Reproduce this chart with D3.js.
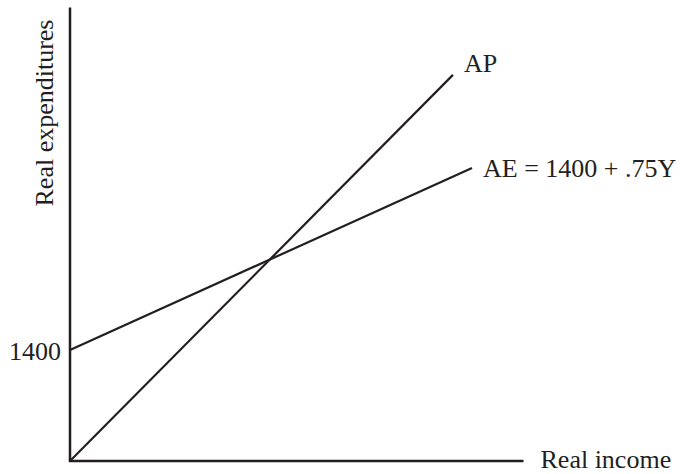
<!DOCTYPE html>
<html>
<head>
<meta charset="utf-8">
<script src="https://cdn.jsdelivr.net/npm/d3@7"></script>
<style>
  body { margin: 0; background: #fff; }
  svg text { font-family: "Liberation Serif", "Times New Roman", serif; font-size: 26px; fill: #231f20; }
</style>
</head>
<body>
<svg id="chart" width="680" height="474"></svg>
<script>
// values (not drawn to scale in the original)
var axisMax = 5720;
var yTicks = [1400];
var apLine = [[0, 0], [4830, 4870]];
var aeLine = [[0, 1400], [5070, 3695]];
var lineLabels = ["AP", "AE = 1400 + .75Y"];
var xTitle = "Real income";
var yTitle = "Real expenditures";

var svg = d3.select("#chart");
var ink = "#231f20";

// origin at (70,461), 1400 units = 111px on both axes
var xScale = d3.scaleLinear().domain([0, 1400]).range([70, 181]);
var yScale = d3.scaleLinear().domain([0, 1400]).range([461, 350]);

// axes as plain lines
svg.append("line")
  .attr("x1", xScale(0)).attr("y1", yScale(0))
  .attr("x2", xScale(0)).attr("y2", yScale(axisMax))
  .attr("stroke", ink).attr("stroke-width", 2.5);

svg.append("line")
  .attr("x1", xScale(0) - 1.2).attr("y1", yScale(0))
  .attr("x2", xScale(axisMax)).attr("y2", yScale(0))
  .attr("stroke", ink).attr("stroke-width", 2.5);

// tick label only, no tick mark
svg.selectAll(".ytick")
  .data(yTicks)
  .enter().append("text")
  .attr("class", "ytick")
  .attr("x", xScale(0) - 9)
  .attr("y", function(d) { return yScale(d) + 10; })
  .attr("text-anchor", "end")
  .text(function(d) { return d; });

var line = d3.line()
  .x(function(d) { return xScale(d[0]); })
  .y(function(d) { return yScale(d[1]); });

svg.selectAll(".curve")
  .data([apLine, aeLine])
  .enter().append("path")
  .attr("class", "curve")
  .attr("d", line)
  .attr("fill", "none")
  .attr("stroke", ink)
  .attr("stroke-width", 2.2);

// labels at the end of each line
svg.selectAll(".curve-label")
  .data([apLine, aeLine])
  .enter().append("text")
  .attr("class", "curve-label")
  .attr("x", function(d) { return xScale(d[1][0]) + 11; })
  .attr("y", function(d, i) { return yScale(d[1][1]) + (i === 0 ? -3 : 9); })
  .text(function(d, i) { return lineLabels[i]; });

// sits right at the bottom edge, as in the sketch
svg.append("text")
  .attr("x", xScale(axisMax) + 17)
  .attr("y", yScale(0) + 7)
  .text(xTitle);

svg.append("text")
  .attr("transform", "translate(53,113) rotate(-90)")
  .attr("text-anchor", "middle")
  .text(yTitle);
</script>
</body>
</html>
